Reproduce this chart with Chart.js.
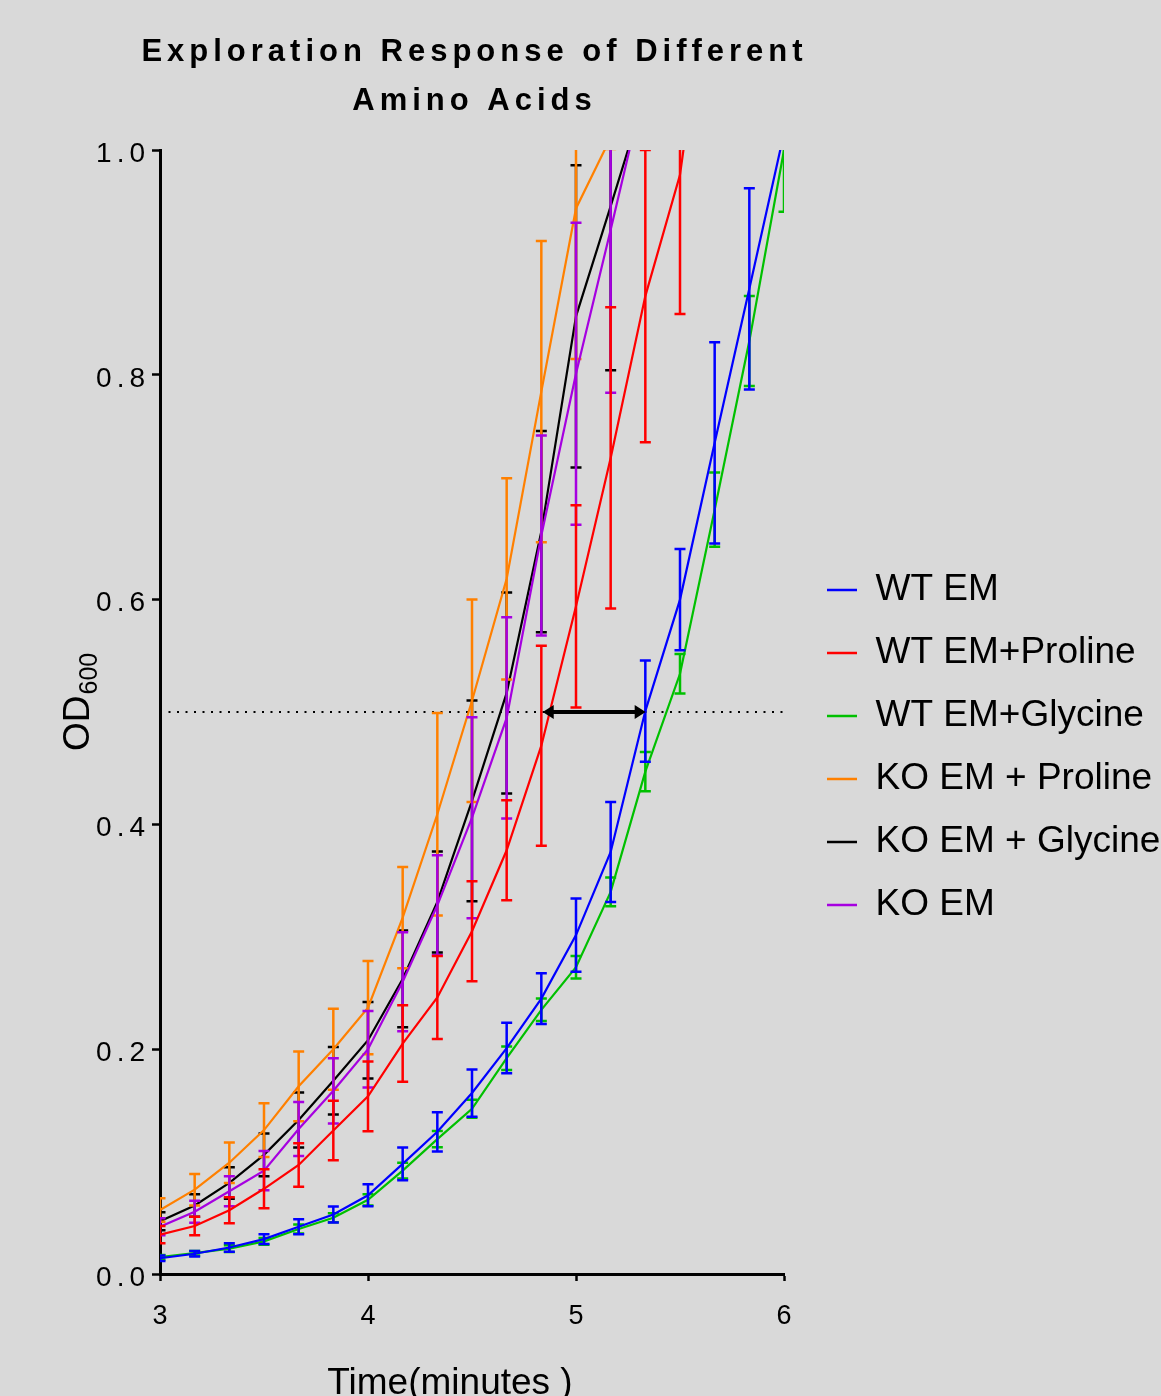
<!DOCTYPE html>
<html>
<head>
<meta charset="utf-8">
<title>Exploration Response of Different Amino Acids</title>
<script src="https://cdn.jsdelivr.net/npm/chart.js@4.4.1/dist/chart.umd.min.js"></script>
<style>
    html, body { margin: 0; padding: 0; background: #d9d9d9; }
    #growthChart { display: block; }
</style>
</head>
<body>
<canvas id="growthChart" width="1161" height="1396"></canvas>
<script>
// Text
const chartTitle = ['Exploration Response of Different', 'Amino Acids'];
const xAxisTitle = 'Time(minutes )';
const yAxisTitle = 'OD';
const yAxisSub = '600';

// Axes
const times = [3, 3.1667, 3.3333, 3.5, 3.6667, 3.8333, 4, 4.1667, 4.3333, 4.5, 4.6667, 4.8333, 5, 5.1667, 5.3333, 5.5, 5.6667, 5.8333, 6];
const xTickValues = [3, 4, 5, 6];
const yTickValues = [0, 0.2, 0.4, 0.6, 0.8, 1.0];

// Series (mean OD600 and SD)
const seriesNames = ['WT EM', 'WT EM+Proline', 'WT EM+Glycine', 'KO EM + Proline', 'KO EM + Glycine', 'KO EM'];
const seriesColors = ['#0000ff', '#ff0000', '#00c000', '#ff8000', '#000000', '#a600e0'];
const drawOrder = [1, 2, 3, 5, 6, 4]; // lower = drawn on top

const wtEm = [0.014, 0.018, 0.0236, 0.031, 0.042, 0.053, 0.070, 0.098, 0.1265, 0.161, 0.201, 0.245, 0.3015, 0.3755, 0.5008, 0.600, 0.7395, 0.8765, 1.015];
const wtEmSd = [0.0025, 0.0025, 0.0037, 0.0043, 0.0067, 0.0071, 0.0098, 0.0145, 0.0175, 0.021, 0.0225, 0.0225, 0.0325, 0.0445, 0.045, 0.045, 0.0895, 0.0895, 0.01];

const wtEmPro = [0.035, 0.0427, 0.0567, 0.0758, 0.097, 0.1277, 0.158, 0.205, 0.246, 0.305, 0.377, 0.470, 0.594, 0.726, 0.870, 0.978, 1.20];
const wtEmProSd = [0.0077, 0.0083, 0.0115, 0.0174, 0.0193, 0.0265, 0.031, 0.034, 0.037, 0.0445, 0.0445, 0.089, 0.090, 0.134, 0.130, 0.124, 0.05];

const wtEmGly = [0.015, 0.0185, 0.0225, 0.029, 0.040, 0.050, 0.066, 0.092, 0.120, 0.147, 0.192, 0.235, 0.273, 0.340, 0.447, 0.534, 0.680, 0.830, 1.000];
const wtEmGlySd = [0.002, 0.002, 0.003, 0.003, 0.004, 0.004, 0.005, 0.007, 0.0072, 0.008, 0.0105, 0.010, 0.010, 0.0128, 0.0175, 0.0175, 0.033, 0.040, 0.055];

const koEmPro = [0.057, 0.075, 0.099, 0.128, 0.167, 0.200, 0.237, 0.317, 0.409, 0.510, 0.6185, 0.785, 0.948, 1.011];
const koEmProSd = [0.0105, 0.014, 0.018, 0.024, 0.031, 0.036, 0.0415, 0.045, 0.090, 0.090, 0.0895, 0.134, 0.134, 0.01];

const koEmGly = [0.047, 0.061, 0.081, 0.106, 0.137, 0.172, 0.208, 0.2625, 0.331, 0.421, 0.517, 0.6605, 0.852, 0.950, 1.05];
const koEmGlySd = [0.008, 0.010, 0.014, 0.019, 0.0245, 0.030, 0.034, 0.043, 0.045, 0.0893, 0.0894, 0.0895, 0.1345, 0.146, 0.04];

const koEm = [0.042, 0.0554, 0.0736, 0.092, 0.129, 0.163, 0.200, 0.260, 0.328, 0.406, 0.4947, 0.657, 0.801, 0.929, 1.06];
const koEmSd = [0.0075, 0.0098, 0.0134, 0.0174, 0.024, 0.029, 0.034, 0.044, 0.0445, 0.0894, 0.0895, 0.089, 0.1343, 0.145, 0.05];

// Half-max reference line and the lag arrow between WT EM+Proline and WT EM
const halfMax = 0.5;
const refLineX = [3, 6];
const arrowSpan = [4.84, 5.335];

const FONT = '"Liberation Sans", Arial, sans-serif';
Chart.defaults.font.family = FONT;
Chart.defaults.color = '#000';

const seriesValues = [wtEm, wtEmPro, wtEmGly, koEmPro, koEmGly, koEm];
const seriesSd = [wtEmSd, wtEmProSd, wtEmGlySd, koEmProSd, koEmGlySd, koEmSd];

const datasets = seriesNames.map((name, k) => ({
    label: name,
    data: seriesValues[k].map((v, i) => ({ x: times[i], y: v })),
    sd: seriesSd[k],
    borderColor: seriesColors[k],
    backgroundColor: seriesColors[k],
    borderWidth: 2.2,
    pointRadius: 0,
    pointHoverRadius: 0,
    pointBorderWidth: 2.5,
    tension: 0,
    clip: 0,
    order: drawOrder[k]
}));

datasets.push({
    label: 'OD 0.5',
    data: refLineX.map(x => ({ x: x, y: halfMax })),
    borderColor: '#000000',
    borderWidth: 2,
    borderDash: [2, 6.5],
    pointRadius: 0,
    tension: 0,
    clip: 0,
    order: 7
});

// Error bars: drawn just before each series' own line
const errorBarPlugin = {
    id: 'errorBars',
    beforeDatasetDraw(chart, args) {
        const ds = chart.data.datasets[args.index];
        if (!ds.sd) return;
        const { ctx, chartArea: a, scales: { x, y } } = chart;
        ctx.save();
        ctx.beginPath();
        ctx.rect(a.left, a.top, a.right - a.left, a.bottom - a.top);
        ctx.clip();
        ctx.strokeStyle = ds.borderColor;
        ctx.lineWidth = 2.5;
        ds.data.forEach((p, i) => {
            const px = x.getPixelForValue(p.x);
            const top = y.getPixelForValue(p.y + ds.sd[i]);
            const bot = y.getPixelForValue(p.y - ds.sd[i]);
            ctx.beginPath();
            ctx.moveTo(px, top); ctx.lineTo(px, bot);
            ctx.moveTo(px - 5.5, top); ctx.lineTo(px + 5.5, top);
            ctx.moveTo(px - 5.5, bot); ctx.lineTo(px + 5.5, bot);
            ctx.stroke();
        });
        ctx.restore();
    }
};

// Double-headed arrow at half max
const arrowPlugin = {
    id: 'lagArrow',
    afterDatasetsDraw(chart) {
        const { ctx, scales: { x, y } } = chart;
        const x1 = x.getPixelForValue(arrowSpan[0]);
        const x2 = x.getPixelForValue(arrowSpan[1]);
        const py = y.getPixelForValue(halfMax);
        ctx.save();
        ctx.strokeStyle = '#000';
        ctx.fillStyle = '#000';
        ctx.lineWidth = 4;
        ctx.beginPath();
        ctx.moveTo(x1 + 8, py); ctx.lineTo(x2 - 8, py);
        ctx.stroke();
        ctx.beginPath();
        ctx.moveTo(x1, py); ctx.lineTo(x1 + 11, py - 7); ctx.lineTo(x1 + 11, py + 7); ctx.closePath();
        ctx.moveTo(x2, py); ctx.lineTo(x2 - 11, py - 7); ctx.lineTo(x2 - 11, py + 7); ctx.closePath();
        ctx.fill();
        ctx.restore();
    }
};

// Letter-spaced y tick labels
const spacedTicksPlugin = {
    id: 'spacedTicks',
    beforeDraw(chart) {
        const scale = chart.scales.y;
        if (scale.__spaced) return;
        const drawLabels = scale.drawLabels.bind(scale);
        scale.drawLabels = (area) => {
            chart.ctx.save();
            chart.ctx.letterSpacing = '5px';
            drawLabels(area);
            chart.ctx.restore();
        };
        scale.__spaced = true;
    }
};

// Title and axis titles
const titlesPlugin = {
    id: 'titles',
    afterDraw(chart) {
        const { ctx, chartArea: a } = chart;
        ctx.save();
        ctx.fillStyle = '#000';

        ctx.font = 'bold 31px ' + FONT;
        ctx.letterSpacing = '5px';
        ctx.textAlign = 'center';
        ctx.textBaseline = 'middle';
        const cx = (a.left + a.right) / 2 + 2.5;
        ctx.fillText(chartTitle[0], cx, 52);
        ctx.fillText(chartTitle[1], cx, 101);
        ctx.letterSpacing = '0px';

        ctx.font = '37px ' + FONT;
        ctx.textBaseline = 'alphabetic';
        ctx.fillText(xAxisTitle, 450, 1394);

        ctx.translate(89, 751);
        ctx.rotate(-Math.PI / 2);
        ctx.textAlign = 'left';
        ctx.fillText(yAxisTitle, 0, 0);
        const w = ctx.measureText(yAxisTitle).width;
        ctx.font = '25px ' + FONT;
        ctx.fillText(yAxisSub, w + 1, 8);
        ctx.restore();
    }
};

new Chart(document.getElementById('growthChart'), {
    type: 'line',
    data: { datasets: datasets },
    options: {
        responsive: false,
        animation: false,
        devicePixelRatio: 1,
        layout: { padding: { top: 150, left: 0, right: 0, bottom: 0 } },
        plugins: {
            title: { display: false },
            tooltip: { enabled: false },
            legend: {
                position: 'right',
                align: 'center',
                fullSize: false,
                maxWidth: 360,
                title: { display: true, text: '', padding: { top: 70, bottom: 0 }, font: { size: 1, lineHeight: 1 } },
                labels: {
                    usePointStyle: true,
                    pointStyle: 'line',
                    pointStyleWidth: 30,
                    padding: 26,
                    color: '#000',
                    font: { size: 37 },
                    filter: item => item.datasetIndex < seriesNames.length,
                    sort: (a, b) => a.datasetIndex - b.datasetIndex
                }
            }
        },
        scales: {
            x: {
                type: 'linear',
                min: 3,
                max: 6,
                afterBuildTicks: s => { s.ticks = xTickValues.map(v => ({ value: v })); },
                afterFit: s => { s.height = 122; },
                ticks: { font: { size: 27 }, color: '#000', padding: 19, maxRotation: 0 },
                grid: { drawOnChartArea: false, drawTicks: true, tickLength: 7, tickWidth: 2.5, tickColor: '#000' },
                border: { display: true, color: '#000', width: 3 }
            },
            y: {
                type: 'linear',
                min: 0,
                max: 1,
                afterBuildTicks: s => { s.ticks = yTickValues.map(v => ({ value: v })); },
                afterFit: s => { s.width = 160; },
                ticks: {
                    font: { size: 28 },
                    color: '#000',
                    padding: 2,
                    labelOffset: 4,
                    callback: v => Number(v).toFixed(1)
                },
                grid: { drawOnChartArea: false, drawTicks: true, tickLength: 8, tickWidth: 2.5, tickColor: '#000' },
                border: { display: true, color: '#000', width: 3 }
            },
            gap: {
                type: 'linear',
                position: 'right',
                display: true,
                grid: { display: false },
                border: { display: false },
                ticks: { display: false },
                afterFit: s => { s.width = 17; }
            }
        }
    },
    plugins: [errorBarPlugin, arrowPlugin, spacedTicksPlugin, titlesPlugin]
});
</script>
</body>
</html>
